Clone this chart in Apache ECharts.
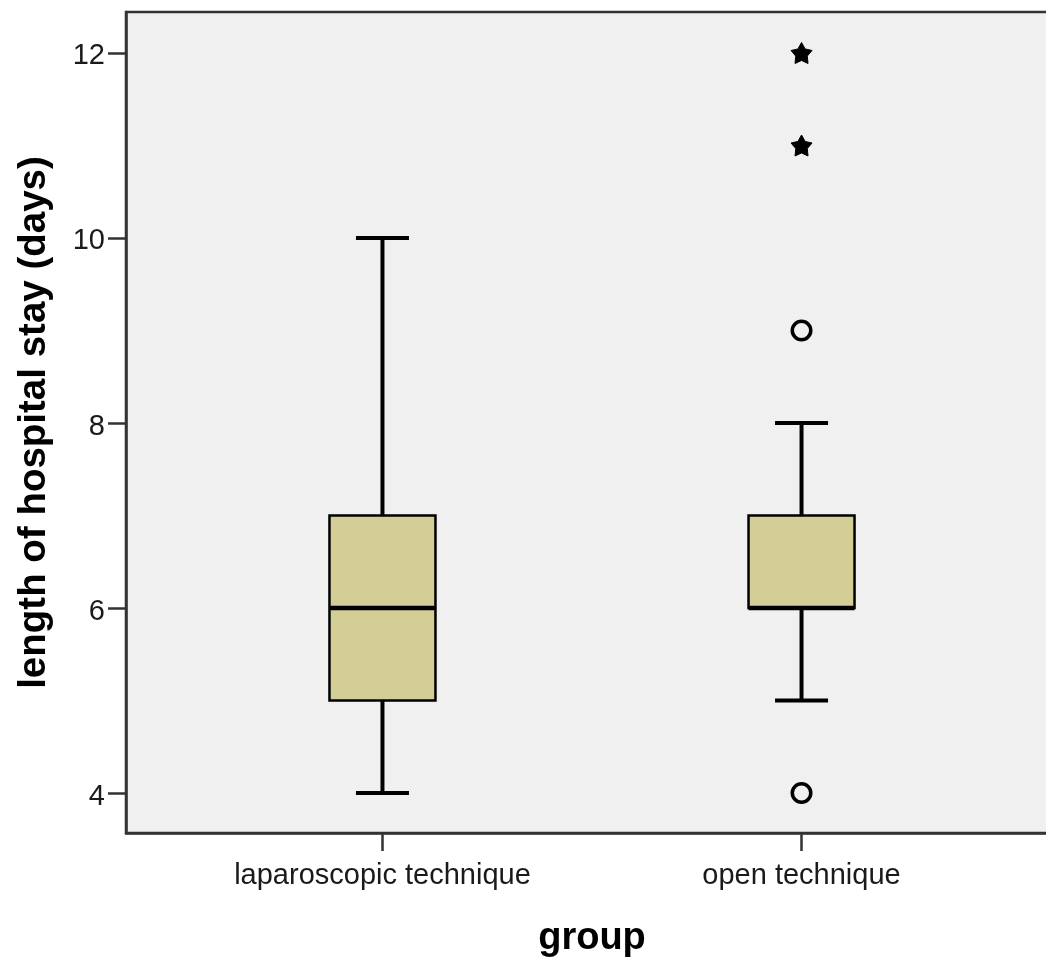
<!DOCTYPE html>
<html><head><meta charset="utf-8">
<script src="https://cdn.jsdelivr.net/npm/echarts@6/dist/echarts.min.js"></script>
<style>html,body{margin:0;padding:0;background:#fff}#c{width:1046px;height:959px}</style>
</head><body><div id="c"></div>
<script>
// ---- data ----
const categories = ['laparoscopic technique', 'open technique'];
const categoryPos = [0, 1];
const whiskerLow = [4, 5];
const q1 = [5, 6];
const median = [6, 6];
const q3 = [7, 7];
const whiskerHigh = [10, 8];
const circleOutliers = [[1, 9], [1, 4]];
const starOutliers = [[1, 11], [1, 12]];
const yTicks = [4, 6, 8, 10, 12];
const xTicks = [0, 1];
const yTitle = 'length of hospital stay (days)';
const xTitle = 'group';

// ---- styles ----
const BOX_W = 106, CAP_W = 53;
const FONT = '"Liberation Sans", Arial, sans-serif';
const AXIS_COLOR = '#333333';

function starPath(ro, ri) {
  let d = '';
  for (let k = 0; k < 10; k++) {
    const r = k % 2 === 0 ? ro : ri;
    const a = -Math.PI / 2 + k * Math.PI / 5;
    d += (k === 0 ? 'M' : 'L') + (r * Math.cos(a)).toFixed(3) + ' ' + (r * Math.sin(a)).toFixed(3);
  }
  return 'path://' + d + 'Z';
}

const boxData = categoryPos.map((x, i) => [x, whiskerLow[i], q1[i], median[i], q3[i], whiskerHigh[i]]);

const chart = echarts.init(document.getElementById('c'), null, {renderer: 'canvas'});
chart.setOption({
  animation: false,
  backgroundColor: '#ffffff',
  grid: {
    left: 126, top: 12, right: -12, bottom: 126,
    show: true, backgroundColor: '#f0f0f0', borderColor: AXIS_COLOR, borderWidth: 2.5,
    containLabel: false, outerBoundsMode: 'none'
  },
  xAxis: {
    type: 'value', min: -0.612, max: 1.612,
    splitLine: {show: false},
    axisLine: {show: true, onZero: false, lineStyle: {color: AXIS_COLOR, width: 2.5}},
    axisTick: {show: true, customValues: xTicks, length: 18, lineStyle: {color: AXIS_COLOR, width: 2.5}},
    axisLabel: {show: true, customValues: xTicks, formatter: v => categories[Math.round(v)] || '',
      fontSize: 29, color: '#1a1a1a', fontFamily: FONT, margin: 28},
    name: xTitle, nameLocation: 'middle', nameGap: 87,
    nameTextStyle: {fontSize: 38, fontWeight: 'bold', color: '#000', fontFamily: FONT}
  },
  yAxis: {
    type: 'value', min: 3.568, max: 12.443,
    splitLine: {show: false},
    axisLine: {show: true, onZero: false, lineStyle: {color: AXIS_COLOR, width: 2.5}},
    axisTick: {show: true, customValues: yTicks, length: 18, lineStyle: {color: AXIS_COLOR, width: 2.5}},
    axisLabel: {show: true, customValues: yTicks, fontSize: 29, color: '#1a1a1a', fontFamily: FONT,
      margin: 21, verticalAlign: 'top', lineHeight: 7},
    name: yTitle, nameLocation: 'middle', nameGap: 72, nameRotate: 90,
    nameTextStyle: {fontSize: 38.5, fontWeight: 'bold', color: '#000', fontFamily: FONT}
  },
  series: [
    {
      type: 'custom',
      data: boxData,
      encode: {x: 0, y: [1, 2, 3, 4, 5]},
      renderItem: function (params, api) {
        const x = api.value(0);
        const pLow = api.coord([x, api.value(1)]);
        const pQ1 = api.coord([x, api.value(2)]);
        const pMed = api.coord([x, api.value(3)]);
        const pQ3 = api.coord([x, api.value(4)]);
        const pHigh = api.coord([x, api.value(5)]);
        const cx = pLow[0];
        const hb = BOX_W / 2, hc = CAP_W / 2;
        const ws = {stroke: '#000', lineWidth: 4};
        return {
          type: 'group',
          children: [
            {type: 'line', shape: {x1: cx, y1: pHigh[1], x2: cx, y2: pQ3[1]}, style: ws},
            {type: 'line', shape: {x1: cx, y1: pQ1[1], x2: cx, y2: pLow[1]}, style: ws},
            {type: 'line', shape: {x1: cx - hc, y1: pHigh[1], x2: cx + hc, y2: pHigh[1]}, style: ws},
            {type: 'line', shape: {x1: cx - hc, y1: pLow[1], x2: cx + hc, y2: pLow[1]}, style: ws},
            {type: 'rect', shape: {x: cx - hb, y: pQ3[1], width: BOX_W, height: pQ1[1] - pQ3[1]},
              style: {fill: '#d3ce96', stroke: '#000', lineWidth: 2.5}},
            {type: 'line', shape: {x1: cx - hb, y1: pMed[1], x2: cx + hb, y2: pMed[1]},
              style: {stroke: '#000', lineWidth: 4.5}}
          ]
        };
      }
    },
    {
      type: 'scatter',
      data: circleOutliers,
      symbol: 'circle', symbolSize: 18.5,
      itemStyle: {color: '#f0f0f0', borderColor: '#000', borderWidth: 3.5, opacity: 1}
    },
    {
      type: 'scatter',
      data: starOutliers,
      symbol: starPath(10, 5.5), symbolSize: 21,
      itemStyle: {color: '#000', borderColor: '#000', borderWidth: 1, opacity: 1}
    }
  ]
});
</script>
</body></html>
